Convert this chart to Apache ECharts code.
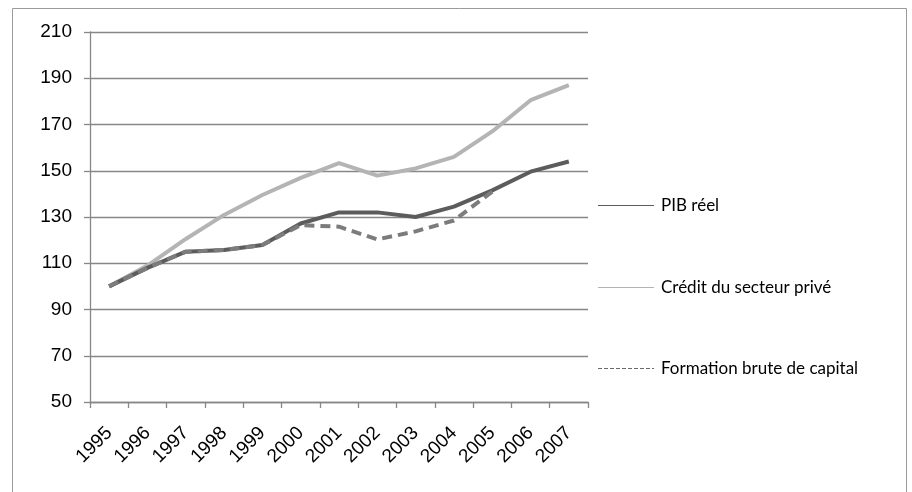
<!DOCTYPE html>
<html>
<head>
<meta charset="utf-8">
<script src="https://cdn.jsdelivr.net/npm/echarts@6/dist/echarts.min.js"></script>
<style>
html, body { margin: 0; padding: 0; background: #fff; }
#chart { width: 912px; height: 492px; }
</style>
</head>
<body>
<div id="chart"></div>
<script>
// Years on the category axis
const years = ['1995', '1996', '1997', '1998', '1999', '2000', '2001', '2002', '2003', '2004', '2005', '2006', '2007'];

// Index, 1995 = 100
const pibReel = [100, 108, 115, 115.7, 117.9, 127.2, 132, 132, 130, 134.5, 141.5, 149.6, 154];
const creditPrive = [100, 109, 120.5, 130.9, 139.5, 146.9, 153.3, 147.9, 151, 156, 167, 180.5, 187];
const formationBrute = [100, 108, 115, 115.7, 117.9, 126.5, 125.8, 120.3, 123.8, 128.5, 141, null, null];

const seriesNames = ['PIB réel', 'Crédit du secteur privé', 'Formation brute de capital'];

const axisFont = 'Liberation Sans, Arial, sans-serif';
const legendFont = 'Lato, Carlito, sans-serif';
const gridGrey = '#878787';

// Legend swatches: a thin solid bar, and a thin bar broken into dashes
const solidIcon = 'path://M0,0H56V1H0Z';
const dashedIcon = 'path://M0,0H4V1H0Z M6,0H10V1H6Z M12,0H16V1H12Z M18,0H22V1H18Z M24,0H28V1H24Z M30,0H34V1H30Z M36,0H40V1H36Z M42,0H46V1H42Z M48,0H52V1H48Z M54,0H56V1H54Z';

const chart = echarts.init(document.getElementById('chart'), null, { renderer: 'canvas' });

function legendAt(name, top, icon, color) {
  return {
    data: [{ name: name, icon: icon, itemStyle: { color: color } }],
    orient: 'vertical',
    left: 598,
    top: top,
    itemWidth: 56,
    itemHeight: 1.2,
    itemGap: 0,
    padding: 0,
    selectedMode: false,
    textStyle: { fontFamily: legendFont, fontSize: 17, color: '#000', padding: [0, 0, 0, 2] }
  };
}

chart.setOption({
  animation: false,
  backgroundColor: '#fff',
  graphic: [{
    type: 'rect',
    shape: { x: 12.5, y: 8.5, width: 894, height: 500 },
    style: { fill: 'none', stroke: '#9a9a9a', lineWidth: 1 },
    silent: true
  }],
  legend: [
    legendAt(seriesNames[0], 197, solidIcon, '#5c5c5c'),
    legendAt(seriesNames[1], 279, solidIcon, '#b4b4b4'),
    legendAt(seriesNames[2], 360, dashedIcon, '#6a6a6a')
  ],
  grid: { left: 90, top: 32, right: 324, bottom: 90, containLabel: false },
  xAxis: {
    type: 'category',
    data: years,
    boundaryGap: true,
    axisLine: { lineStyle: { color: gridGrey, width: 1.3 } },
    axisTick: { show: true, length: 6, alignWithLabel: false, lineStyle: { color: gridGrey, width: 1.3 } },
    axisLabel: { rotate: 45, color: '#000', fontFamily: axisFont, fontSize: 19, margin: 28, interval: 0 }
  },
  yAxis: {
    type: 'value',
    min: 50,
    max: 210,
    interval: 20,
    axisLine: { show: true, lineStyle: { color: gridGrey, width: 1.3 } },
    axisTick: { show: true, length: 6, lineStyle: { color: gridGrey, width: 1.3 } },
    splitLine: { lineStyle: { color: gridGrey, width: 1.3 } },
    axisLabel: { color: '#000', fontFamily: axisFont, fontSize: 19, margin: 18 }
  },
  series: [
    {
      name: seriesNames[0],
      type: 'line',
      data: pibReel,
      symbol: 'none',
      z: 2,
      lineStyle: { color: '#5c5c5c', width: 4 },
      itemStyle: { color: '#5c5c5c' }
    },
    {
      name: seriesNames[1],
      type: 'line',
      data: creditPrive,
      symbol: 'none',
      z: 1,
      lineStyle: { color: '#b4b4b4', width: 4 },
      itemStyle: { color: '#b4b4b4' }
    },
    {
      name: seriesNames[2],
      type: 'line',
      data: formationBrute,
      symbol: 'none',
      z: 3,
      lineStyle: { color: '#7c7c7c', width: 4, type: [10, 6] },
      itemStyle: { color: '#7c7c7c' }
    }
  ]
});
</script>
</body>
</html>
